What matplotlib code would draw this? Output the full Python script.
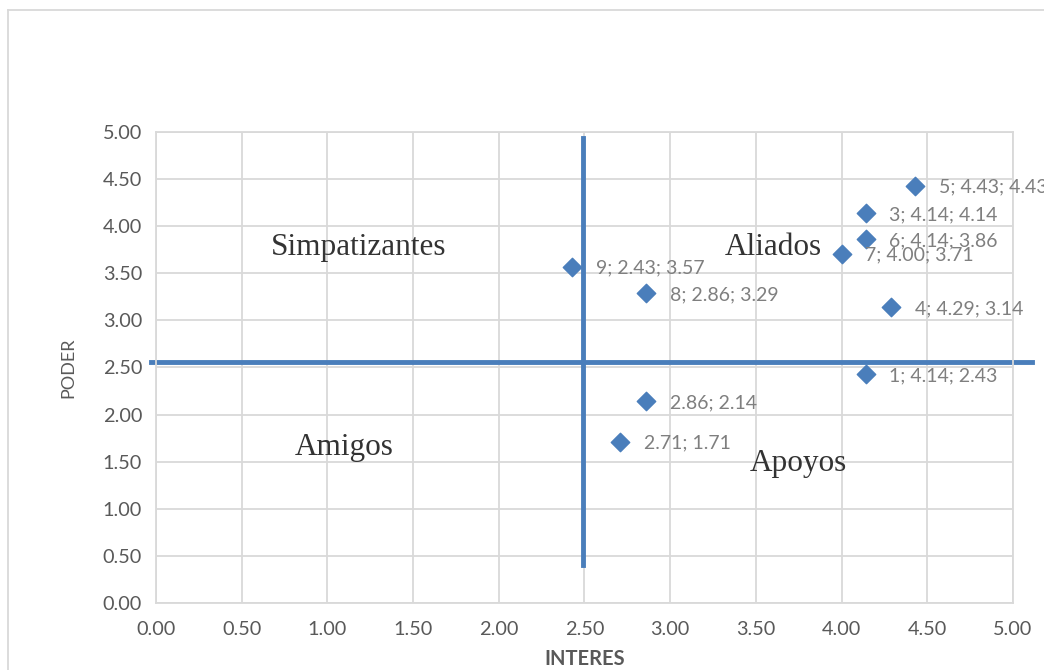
import matplotlib.pyplot as plt
from matplotlib.lines import Line2D


# interest / power scores per stakeholder
point_ids = ["1", "", "3", "4", "5", "6", "7", "8", "9", ""]
interes = [4.14, 2.86, 4.14, 4.29, 4.43, 4.14, 4.00, 2.86, 2.43, 2.71]
poder = [2.43, 2.14, 4.14, 3.14, 4.43, 3.86, 3.71, 3.29, 3.57, 1.71]

ticks = [0.0, 0.5, 1.0, 1.5, 2.0, 2.5, 3.0, 3.5, 4.0, 4.5, 5.0]

# quadrant names and where they sit
quadrants = ["Simpatizantes", "Aliados", "Amigos", "Apoyos"]
quadrant_xy = [(1.18, 3.77), (3.6, 3.77), (1.1, 1.65), (3.75, 1.48)]

# divider lines drawn over the plot
split_x = 2.49
split_y = 2.56

BLUE = "#4a7ebb"
GRID = "#d9d9d9"


def main():
    plt.rcParams["font.family"] = ["Lato", "DejaVu Sans"]
    fig = plt.figure(figsize=(10.44, 6.70), dpi=100)
    ax = fig.add_axes([0.1494, 0.1, 0.8209, 0.7030])

    ax.set_xlim(0, 5)
    ax.set_ylim(0, 5)
    ax.set_xticks(ticks)
    ax.set_yticks(ticks)
    ax.set_xticklabels([f"{t:.2f}" for t in ticks])
    ax.set_yticklabels([f"{t:.2f}" for t in ticks])
    ax.tick_params(length=0, labelsize=14.3, labelcolor="#595959")
    ax.tick_params(axis="x", pad=13)
    ax.tick_params(axis="y", pad=10)
    ax.grid(True, color=GRID, linewidth=1.3)
    ax.set_axisbelow(True)
    for sp in ax.spines.values():
        sp.set_color(GRID)
        sp.set_linewidth(1.3)

    ax.set_xlabel("INTERES", fontsize=14.5, fontweight="bold", color="#595959", labelpad=8)
    ax.set_ylabel("PODER", fontsize=13, color="#595959", labelpad=19)

    # quadrant dividers
    ax.plot([-0.03, 5.11], [split_y, split_y], color=BLUE, linewidth=3.5,
            clip_on=False, zorder=2)
    ax.plot([split_x, split_x], [0.40, 4.94], color=BLUE, linewidth=3.5,
            clip_on=False, zorder=2)

    ax.scatter(interes, poder, marker="D", s=88, color=BLUE, zorder=3,
               clip_on=False)

    for pid, x, y in zip(point_ids, interes, poder):
        label = f"{x:.2f}; {y:.2f}"
        if pid:
            label = f"{pid}; {label}"
        ax.annotate(label, (x, y), xytext=(17, -1), textcoords="offset points",
                    ha="left", va="center", fontsize=14, color="#7f7f7f",
                    annotation_clip=False, zorder=4)

    for name, (qx, qy) in zip(quadrants, quadrant_xy):
        ax.text(qx, qy, name, fontsize=22.5, family="Liberation Serif",
                color="#333333", ha="center", va="center", zorder=4)

    # chart frame
    fig.add_artist(Line2D([8 / 1044, 8 / 1044], [0, 1 - 10 / 670],
                          color=GRID, linewidth=1.3))
    fig.add_artist(Line2D([8 / 1044, 1], [1 - 10 / 670, 1 - 10 / 670],
                          color=GRID, linewidth=1.3))

    fig.savefig("out.png", dpi=100)


if __name__ == "__main__":
    main()
